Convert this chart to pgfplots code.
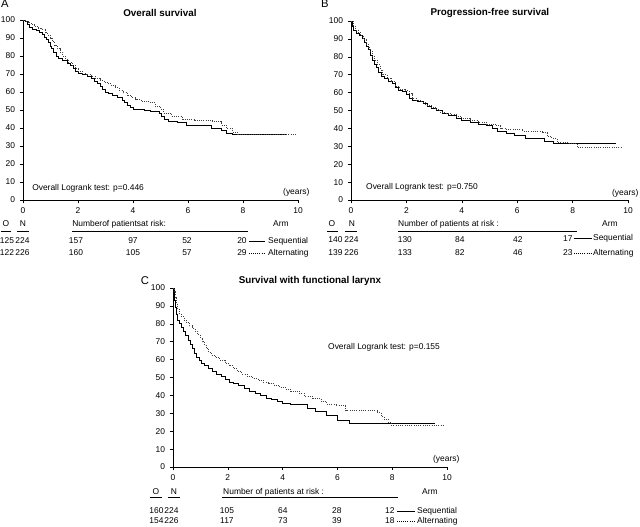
\documentclass[border=0pt]{standalone}
\usepackage{pgfplots}
\pgfplotsset{compat=1.18}
\usepackage{fontspec}
\setmainfont{Liberation Sans}

% 1 px of the reference = 0.025cm
\pgfplotsset{
  km/.style={
    scale only axis, anchor=south west,
    xmin=0, xmax=10, ymin=0, ymax=100,
    axis x line*=bottom, axis y line*=left,
    axis line style={black, line width=0.5pt},
    xtick={0,2,...,10}, ytick={0,10,...,100},
    tick align=outside, major tick length=0.075cm,
    tick style={black, line width=0.4pt},
    tick label style={font=\fontsize{6}{7}\selectfont},
    /pgf/number format/assume math mode=true,
    clip=false,
  },
  seq/.style={const plot, black, line width=0.6pt},
  alt/.style={const plot, black!75, line width=0.6pt, densely dotted},
}

\begin{document}
\begin{tikzpicture}
\useasboundingbox (0,0) rectangle (16cm,-13.15cm);

%% A: overall survival
\begin{axis}[km, at={(0.575cm,-5cm)}, width=6.875cm, height=4.5cm]
\addplot[seq] table {
0 100
0.08 99
0.15 97.5
0.22 96
0.35 95
0.5 94
0.6 93
0.7 92
0.78 90.5
0.85 89
0.92 87.5
1.0 85.5
1.05 84
1.12 82
1.2 80
1.3 78.5
1.45 77.5
1.6 76
1.72 74.5
1.82 73
1.92 71.5
2.0 70.5
2.15 69.5
2.35 68.5
2.5 67.5
2.6 66
2.7 64.5
2.8 63
2.9 61.5
3.0 60
3.1 59
3.25 58
3.45 57
3.6 55.5
3.7 54
3.8 52.5
3.92 51.5
4.0 50.5
4.4 50
4.65 49
4.95 48
5.05 46.5
5.15 45
5.3 43.7
5.6 43
5.95 41.7
6.4 41.2
6.86 39.8
7.2 38.5
7.4 37
7.6 36.6
9.6 36.6
};
\addplot[alt] table {
0 100
0.12 99
0.2 98.5
0.3 97.5
0.42 96.5
0.55 95.5
0.68 94.5
0.8 93
0.9 91.5
1.0 90
1.07 88
1.15 86
1.25 84
1.35 82
1.45 80
1.55 78
1.65 76.5
1.78 75
1.9 73
2.0 71.5
2.15 70.5
2.3 69.5
2.5 68.5
2.65 67.5
2.8 66.5
2.95 65.5
3.1 64.5
3.2 63.5
3.35 62.5
3.5 61
3.65 59.5
3.8 58
3.95 57
4.1 56
4.3 55
4.5 54.5
4.62 54
4.8 52
5.0 50.5
5.1 48.1
5.4 46.3
5.8 44.8
6.25 44
6.9 43.5
7.2 41.7
7.4 39.8
7.6 37.8
7.8 36.7
8.5 36.3
9.95 36.3
};
\end{axis}

%% B: progression-free survival
\begin{axis}[km, at={(8.775cm,-5cm)}, width=6.925cm, height=4.475cm]
\addplot[seq] table {
0 100
0.05 97
0.1 94.5
0.2 93
0.3 92
0.4 90
0.48 88
0.55 86
0.62 84
0.7 81
0.78 78
0.85 76
0.92 74
1.0 71.5
1.1 69
1.2 68
1.35 66.5
1.5 65
1.6 63
1.7 61.5
1.85 60.5
2.0 59
2.1 57
2.2 55.5
2.4 55
2.6 54
2.75 52.5
2.9 51
3.1 50
3.3 48.5
3.5 47
3.8 45.5
4.0 44.5
4.3 43.5
4.6 42.5
4.9 41.5
5.1 40
5.3 38.5
5.6 37
5.9 36
6.3 34.2
7.0 32.6
7.3 31.7
9.55 31.7
};
\addplot[alt] table {
0 100
0.08 97.5
0.15 95
0.25 93.5
0.35 92
0.45 89.5
0.55 87
0.62 85
0.7 83
0.78 80
0.85 78
0.95 75.5
1.05 72.5
1.15 70
1.3 68
1.45 66
1.6 63.5
1.75 62
1.95 61
2.1 59.5
2.2 57
2.35 55.5
2.55 54.5
2.7 53
2.9 51.5
3.05 50.5
3.2 49
3.4 48.5
3.6 48
3.8 46.5
4.0 45.5
4.3 44.5
4.6 43.5
4.9 42.5
5.2 41.5
5.4 40
5.6 39.5
6.2 38.2
6.9 37.5
7.1 35.5
7.25 34.2
7.44 32.2
7.87 31.7
8.16 29.4
9.77 29.4
};
\end{axis}

%% C: survival with functional larynx
\begin{axis}[km, at={(4.325cm,-11.675cm)}, width=6.85cm, height=4.475cm]
\addplot[seq] table {
0 100
0.04 97
0.07 93
0.1 89
0.13 85
0.17 82
0.22 80
0.3 78
0.38 76
0.46 73.5
0.55 71
0.62 68.5
0.7 66
0.78 63.5
0.86 61.5
0.95 59.5
1.05 58
1.15 56.5
1.3 55
1.45 53.5
1.6 52
1.75 50.5
1.9 49
2.05 47.5
2.2 46.5
2.4 45.5
2.6 44
2.8 42.5
3.0 41
3.2 40
3.4 38.5
3.6 37.5
3.8 36.5
4.0 35.5
4.3 34.7
4.9 32.9
5.2 30.9
5.6 29.1
6.0 26.3
6.45 24.5
9.56 24.5
};
\addplot[alt] table {
0 100
0.06 98
0.1 95
0.13 91
0.17 88
0.22 86
0.3 84
0.4 82
0.5 80.5
0.6 79
0.7 77.5
0.8 76
0.9 74
1.0 72
1.08 70
1.15 68
1.22 66
1.3 64
1.4 62.5
1.55 61
1.7 59.5
1.9 58
2.05 56.5
2.2 55
2.35 53.5
2.5 52
2.7 50.5
2.9 49.5
3.1 48.5
3.3 47.5
3.5 46.5
3.7 45.5
3.9 44.5
4.1 43.5
4.3 42.5
4.6 41
4.8 39.5
5.1 38.4
5.4 36.6
5.6 35.2
5.95 34.2
6.3 31.5
7.45 30.5
7.6 28.5
7.7 26.8
7.85 25
7.97 23.3
9.93 23.3
};
\end{axis}

%% texts and at-risk tables, in reference pixels
\begin{scope}[x=0.025cm, y=-0.025cm, font=\fontsize{6}{7}\selectfont,
  every node/.style={inner sep=0pt}]
  % panel A
  \node[font=\fontsize{8}{9}\selectfont] at (5,4) {A};
  \node[font=\fontsize{7}{8}\selectfont\bfseries] at (160,13) {Overall survival};
  \node[anchor=west] at (32,188) {Overall Logrank test: p=0.446};
  \node[anchor=west] at (283,192) {(years)};
  \node at (6,224) {O};
  \node at (23,224) {N};
  \draw[line width=0.4pt] (1,231) -- (11,231) (17,231) -- (29,231);
  \node[anchor=west] at (72,224) {Numberof patientsat risk:};
  \draw[line width=0.5pt] (72,231) -- (248,231);
  \node at (281,224) {Arm};
  \node at (7,241) {125};   \node at (22.5,241) {224};
  \node at (76,241) {157};  \node at (133,241) {97};
  \node at (187,241) {52};  \node at (242,241) {20};
  \draw[line width=0.5pt] (249,241) -- (265,241);
  \node[anchor=west] at (268,241) {Sequential};
  \node at (7,253) {122};   \node at (22.5,253) {226};
  \node at (76,253) {160};  \node at (133,253) {105};
  \node at (187,253) {57};  \node at (242,253) {29};
  \draw[line width=0.5pt, densely dotted] (249,253) -- (265,253);
  \node[anchor=west] at (268,253) {Alternating};

  % panel B
  \node[font=\fontsize{8}{9}\selectfont] at (325,4) {B};
  \node[font=\fontsize{7}{8}\selectfont\bfseries] at (490,13) {Progression-free survival};
  \node[anchor=west] at (366,187) {Overall Logrank test: p=0.750};
  \node[anchor=west] at (612,193) {(years)};
  \node at (332,224) {O};
  \node at (352,224) {N};
  \draw[line width=0.4pt] (327,231) -- (338,231) (345,231) -- (357,231);
  \node[anchor=west] at (398,224) {Number of patients at risk :};
  \draw[line width=0.5pt] (398,231) -- (577,231);
  \node at (610,224) {Arm};
  \node at (335.5,240) {140}; \node at (351.5,240) {224};
  \node at (405,240) {130};   \node at (460,240) {84};
  \node at (518,240) {42};    \node at (568,239) {17};
  \draw[line width=0.5pt] (574,238) -- (592,238);
  \node[anchor=west] at (593,238) {Sequential};
  \node at (335.5,253) {139}; \node at (351.5,253) {226};
  \node at (405,253) {133};   \node at (460,253) {82};
  \node at (518,253) {46};    \node at (568,253) {23};
  \draw[line width=0.5pt, densely dotted] (574,253) -- (592,253);
  \node[anchor=west] at (593,253) {Alternating};

  % panel C
  \node[font=\fontsize{8}{9}\selectfont] at (145,281) {C};
  \node[font=\fontsize{7}{8}\selectfont\bfseries] at (310,281) {Survival with functional larynx};
  \node[anchor=west] at (328,347) {Overall Logrank test: p=0.155};
  \node[anchor=west] at (433,459) {(years)};
  \node at (156,492) {O};
  \node at (174,492) {N};
  \draw[line width=0.4pt] (150,497) -- (162,497) (168,497) -- (180,497);
  \node[anchor=west] at (223,492) {Number of patients at risk :};
  \draw[line width=0.5pt] (222,497) -- (398,497);
  \node at (430,492) {Arm};
  \node at (156.5,511) {160}; \node at (171.5,511) {224};
  \node at (227,511) {105};   \node at (283,511) {64};
  \node at (337,511) {28};    \node at (390,511) {12};
  \draw[line width=0.5pt] (397,511) -- (415,511);
  \node[anchor=west] at (417,511) {Sequential};
  \node at (156.5,521) {154}; \node at (171.5,521) {226};
  \node at (227,521) {117};   \node at (283,521) {73};
  \node at (337,521) {39};    \node at (390,521) {18};
  \draw[line width=0.5pt, densely dotted] (397,521) -- (415,521);
  \node[anchor=west] at (417,521) {Alternating};
\end{scope}
\end{tikzpicture}
\end{document}
